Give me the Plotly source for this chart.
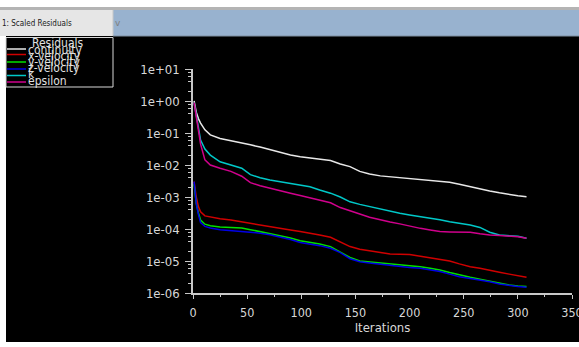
import math
import plotly.graph_objects as go

# ---------------- data (log10 of scaled residual) ----------------
iterations = [1, 3, 5, 7, 11, 16, 25, 35, 45, 53, 62, 71, 80, 90, 99, 108, 117, 127,
              136, 145, 154, 163, 173, 182, 191, 200, 210, 219, 228, 237, 246, 256,
              265, 274, 283, 292, 300, 308]

continuity_log10 = [0.0, -0.35, -0.55, -0.69, -0.9, -1.06, -1.17, -1.25, -1.32, -1.37,
                    -1.44, -1.52, -1.6, -1.69, -1.74, -1.78, -1.81, -1.86, -1.97, -2.05,
                    -2.2, -2.28, -2.34, -2.37, -2.40, -2.42, -2.45, -2.48, -2.51, -2.54,
                    -2.60, -2.68, -2.75, -2.81, -2.87, -2.93, -2.96, -2.99]
x_velocity_log10 = [-2.52, -3.0, -3.3, -3.46, -3.59, -3.63, -3.68, -3.72, -3.78, -3.82,
                    -3.88, -3.93, -3.98, -4.03, -4.08, -4.13, -4.19, -4.26, -4.4, -4.55,
                    -4.63, -4.68, -4.72, -4.78, -4.79, -4.8, -4.85, -4.9, -4.95, -5.0,
                    -5.09, -5.18, -5.23, -5.28, -5.35, -5.41, -5.46, -5.51]
y_velocity_log10 = [-2.6, -3.2, -3.5, -3.72, -3.85, -3.9, -3.94, -3.96, -3.97, -4.02,
                    -4.08, -4.13, -4.19, -4.28, -4.37, -4.42, -4.47, -4.55, -4.71, -4.89,
                    -5.0, -5.03, -5.04, -5.08, -5.1, -5.14, -5.18, -5.23, -5.28, -5.36,
                    -5.44, -5.51, -5.57, -5.63, -5.7, -5.75, -5.78, -5.8]
z_velocity_log10 = [-2.52, -3.2, -3.55, -3.8, -3.92, -3.97, -4.02, -4.05, -4.06, -4.09,
                    -4.13, -4.18, -4.24, -4.33, -4.42, -4.47, -4.52, -4.6, -4.74, -4.93,
                    -5.02, -5.06, -5.1, -5.14, -5.18, -5.2, -5.23, -5.28, -5.33, -5.41,
                    -5.49, -5.55, -5.59, -5.65, -5.72, -5.77, -5.8, -5.82]
k_log10 = [-0.05, -0.4, -0.85, -1.22, -1.5, -1.69, -1.9, -2.0, -2.1, -2.3,
           -2.4, -2.47, -2.52, -2.57, -2.62, -2.68, -2.78, -2.88, -3.0, -3.15,
           -3.23, -3.3, -3.37, -3.44, -3.51, -3.56, -3.61, -3.65, -3.71, -3.77,
           -3.82, -3.875, -3.95, -4.1, -4.19, -4.21, -4.23, -4.29]
epsilon_log10 = [-0.05, -0.45, -0.95, -1.35, -1.84, -2.0, -2.1, -2.2, -2.35, -2.55,
                 -2.65, -2.73, -2.8, -2.88, -2.95, -3.02, -3.1, -3.18, -3.33, -3.42,
                 -3.53, -3.63, -3.72, -3.78, -3.84, -3.91, -3.98, -4.03, -4.08, -4.09,
                 -4.1, -4.1, -4.15, -4.19, -4.2, -4.21, -4.24, -4.29]

series_names = ["continuity", "x-velocity", "y-velocity", "z-velocity", "k", "epsilon"]
series_values = [continuity_log10, x_velocity_log10, y_velocity_log10,
                 z_velocity_log10, k_log10, epsilon_log10]
series_colors = ["#e8e8e8", "#d00000", "#00e000", "#0000e6", "#00c8c8", "#d0008c"]

y_tick_vals = [1, 0, -1, -2, -3, -4, -5, -6]
y_tick_text = ["1e+01", "1e+00", "1e-01", "1e-02", "1e-03", "1e-04", "1e-05", "1e-06"]
x_tick_vals = [0, 50, 100, 150, 200, 250, 300, 350]

# ---------------- layout helpers (window pixels) ----------------
W, H = 579, 347
L, R, T, B = 193, 572, 69, 293  # plot area


def px(xp):
    return (xp - L) / (R - L)


def py(yp):
    return (B - yp) / (B - T)


FONT = "Liberation Sans Narrow, DejaVu Sans Condensed, Arial Narrow, sans-serif"
AX = "#c8c8c8"

fig = go.Figure()
for name, vals, col in zip(series_names, series_values, series_colors):
    fig.add_trace(go.Scatter(x=iterations, y=vals, mode="lines", name=name,
                             line=dict(color=col, width=1.5), showlegend=False))

shapes = [
    # black panel
    dict(type="rect", xref="paper", yref="paper", x0=px(6), x1=px(600), y0=py(342), y1=py(36),
         fillcolor="black", line=dict(width=0), layer="below"),
    # top gray line
    dict(type="rect", xref="paper", yref="paper", x0=px(0), x1=px(600), y0=py(10), y1=py(7),
         fillcolor="#b4b4b4", line=dict(width=0), layer="below"),
    # dropdown
    dict(type="rect", xref="paper", yref="paper", x0=px(0), x1=px(113), y0=py(36), y1=py(10),
         fillcolor="#e6e6e6", line=dict(width=0), layer="below"),
    # blue bar
    dict(type="rect", xref="paper", yref="paper", x0=px(113), x1=px(600), y0=py(36), y1=py(10),
         fillcolor="#98b2cf", line=dict(width=0), layer="below"),
    dict(type="line", xref="paper", yref="paper", x0=px(113), x1=px(113), y0=py(36), y1=py(10),
         line=dict(color="#c8c8c8", width=1), layer="below"),
    dict(type="line", xref="paper", yref="paper", x0=px(113), x1=px(600), y0=py(36), y1=py(36),
         line=dict(color="#7f8fa0", width=1), layer="below"),
    # legend box
    dict(type="rect", xref="paper", yref="paper", x0=px(6), x1=px(113), y0=py(87), y1=py(37.5),
         fillcolor="black", line=dict(color="#d8d8d8", width=1), layer="below"),
]

legend_line_y = [49, 54.5, 62, 69, 75.5, 82]
for yy, col in zip(legend_line_y, series_colors):
    shapes.append(dict(type="line", xref="paper", yref="paper", x0=px(7), x1=px(26),
                       y0=py(yy), y1=py(yy), line=dict(color=col, width=1.5)))

annotations = [
    dict(text="1: Scaled Residuals", x=px(0), y=py(23), xref="paper", yref="paper",
         xanchor="left", yanchor="middle", showarrow=False,
         font=dict(family=FONT, size=8, color="#202020")),
    dict(text="v", x=px(118), y=py(23), xref="paper", yref="paper",
         xanchor="center", yanchor="middle", showarrow=False,
         font=dict(family="DejaVu Sans", size=9, color="#808080")),
    dict(text="Residuals", x=px(58), y=py(43), xref="paper", yref="paper",
         xanchor="center", yanchor="middle", showarrow=False,
         font=dict(family=FONT, size=12, color="#e0e0e0")),
]
legend_text_y = [49.5, 55.7, 62, 68.2, 74, 80.5]
for yy, name in zip(legend_text_y, series_names):
    annotations.append(dict(text=name, x=px(26), y=py(yy), xref="paper", yref="paper",
                            xanchor="left", yanchor="middle", showarrow=False,
                            font=dict(family=FONT, size=12, color="#e0e0e0")))

minor_y = [d + math.log10(m) for d in range(-6, 1) for m in (2, 4, 6, 8)]

fig.update_layout(
    width=W, height=H,
    margin=dict(l=L, r=W - R, t=T, b=H - B, pad=0, autoexpand=False),
    paper_bgcolor="white", plot_bgcolor="black",
    shapes=shapes, annotations=annotations,
    showlegend=False,
    xaxis=dict(range=[0, 350], tickmode="array", tickvals=x_tick_vals, automargin=False,
               ticks="outside", ticklen=4, tickcolor=AX, tickwidth=1,
               showline=True, linecolor=AX, linewidth=1.5, showgrid=False, zeroline=False,
               tickfont=dict(family=FONT, size=12.5, color="#d8d8d8"),
               ticklabelstandoff=3, ticklabeloverflow="allow",
               minor=dict(tickmode="array", tickvals=[25, 75, 125, 175, 225, 275, 325],
                          ticks="outside", ticklen=2, tickcolor=AX, showgrid=False),
               title=dict(text="Iterations", standoff=4,
                          font=dict(family=FONT, size=13, color="#d8d8d8"))),
    yaxis=dict(range=[-6, 1], tickmode="array", tickvals=y_tick_vals, ticktext=y_tick_text,
               automargin=False,
               ticks="outside", ticklen=6, tickcolor=AX, tickwidth=1,
               showline=True, linecolor=AX, linewidth=1.5, showgrid=False, zeroline=False,
               tickfont=dict(family=FONT, size=13, color="#d8d8d8"),
               ticklabelstandoff=3,
               minor=dict(tickmode="array", tickvals=minor_y, ticks="outside", ticklen=3,
                          tickcolor=AX, showgrid=False)),
)

# remove the default 8px page margin so the figure sits at the window's top-left corner
fig.write_html("out.html", config={"displayModeBar": False},
               post_script="document.body.style.margin='0px';"
                           "document.documentElement.style.overflow='hidden';")
